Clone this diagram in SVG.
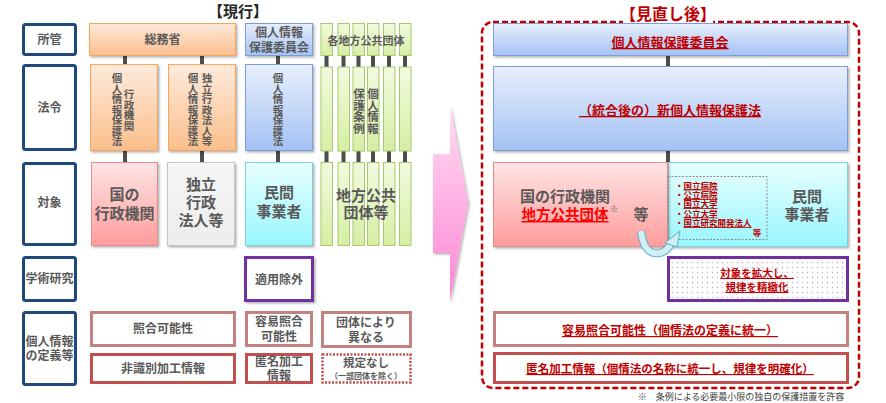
<svg xmlns="http://www.w3.org/2000/svg" width="886" height="403" viewBox="0 0 886 403">
<style>
text{font-family:"Noto Sans CJK JP","Liberation Sans",sans-serif;font-weight:bold;fill:#595959;text-anchor:middle}
.lbl{fill:#fff;stroke:#1F497D;stroke-width:3}
.lt{font-size:12px}
.vt{font-size:10.5px;writing-mode:vertical-rl}
.big{font-size:15px}
.red{fill:#C00000;text-decoration:underline}
.rose{fill:#fff;stroke:#C3827F;stroke-width:3}
.rbox{fill:#fff;stroke:#C0504D;stroke-width:3}
.conn{fill:#4D4D4D}
.org{fill:url(#gOrg);stroke:#F7A45E;stroke-width:1}
.blu{fill:url(#gBlu);stroke:#7B9ED6;stroke-width:1}
.grn{fill:url(#gGrn);stroke:#A6C96A;stroke-width:1}
.pnk{fill:url(#gPnk);stroke:#E58C8C;stroke-width:1}
.cyn{fill:url(#gCyn);stroke:#7FCFDD;stroke-width:1}
</style>
<defs>
<linearGradient id="gOrg" x1="0" y1="0" x2="0" y2="1"><stop offset="0" stop-color="#FEEADB"/><stop offset="1" stop-color="#FBBF8C"/></linearGradient>
<linearGradient id="gBlu" x1="0" y1="0" x2="0" y2="1"><stop offset="0" stop-color="#E8EFFC"/><stop offset="1" stop-color="#A3C2F4"/></linearGradient>
<linearGradient id="gGrn" x1="0" y1="0" x2="0" y2="1"><stop offset="0" stop-color="#F3FADF"/><stop offset="1" stop-color="#D6EEA4"/></linearGradient>
<linearGradient id="gPnk" x1="0" y1="0" x2="0" y2="1"><stop offset="0" stop-color="#FFE4E4"/><stop offset="1" stop-color="#FF9C9C"/></linearGradient>
<linearGradient id="gCyn" x1="0" y1="0" x2="0" y2="1"><stop offset="0" stop-color="#E8FFFF"/><stop offset="1" stop-color="#99F6FF"/></linearGradient>
<linearGradient id="gGry" x1="0" y1="0" x2="0" y2="1"><stop offset="0" stop-color="#F5F5F5"/><stop offset="1" stop-color="#EDEDED"/></linearGradient>
<linearGradient id="gArr" x1="0" y1="0" x2="0" y2="1"><stop offset="0" stop-color="#FFDDF3"/><stop offset="1" stop-color="#FF86D6"/></linearGradient>
<pattern id="dots" width="5" height="5" patternUnits="userSpaceOnUse"><rect width="5" height="5" fill="#fff"/><circle cx="2.5" cy="2.5" r="0.7" fill="#C9A3D9"/></pattern>
<filter id="sh" x="-10%" y="-10%" width="130%" height="130%"><feDropShadow dx="1.5" dy="1.5" stdDeviation="1" flood-color="#000" flood-opacity="0.3"/></filter>
</defs>

<!-- titles -->
<text x="238" y="17" style="font-size:15px;fill:#262626">【現行】</text>

<!-- row labels -->
<g id="row-shokan"><rect class="lbl" x="23.5" y="24.5" width="52" height="30" rx="2"/><text class="lt" x="49.5" y="44">所管</text></g>
<g id="row-horei"><rect class="lbl" x="23.5" y="65.5" width="52" height="84" rx="2"/><text class="lt" x="49.5" y="112">法令</text></g>
<g id="row-taisho"><rect class="lbl" x="23.5" y="163.5" width="52" height="81" rx="2"/><text class="lt" x="49.5" y="207">対象</text></g>
<g id="row-gakujutsu"><rect class="lbl" x="23.5" y="257.5" width="52" height="43" rx="2"/><text class="lt" x="49.5" y="283">学術研究</text></g>
<g id="row-teigi"><rect class="lbl" x="23.5" y="312.5" width="52" height="72" rx="2"/><text class="lt" x="49.5" y="346">個人情報</text><text class="lt" x="49.5" y="360">の定義等</text></g>

<!-- connectors -->
<g id="connectors">
<rect class="conn" x="123" y="56" width="4" height="8"/>
<rect class="conn" x="200" y="56" width="4" height="8"/>
<rect class="conn" x="276" y="56" width="4" height="8"/>
<rect class="conn" x="123" y="150" width="4" height="12"/>
<rect class="conn" x="200" y="150" width="4" height="12"/>
<rect class="conn" x="276" y="150" width="4" height="12"/>
<rect class="conn" x="324.5" y="56" width="4" height="11"/>
<rect class="conn" x="341.5" y="56" width="4" height="11"/>
<rect class="conn" x="356.5" y="56" width="4" height="11"/>
<rect class="conn" x="371" y="56" width="4" height="11"/>
<rect class="conn" x="387" y="56" width="4" height="11"/>
<rect class="conn" x="403" y="56" width="4" height="11"/>
<rect class="conn" x="324.5" y="151" width="4" height="11"/>
<rect class="conn" x="341.5" y="151" width="4" height="11"/>
<rect class="conn" x="356.5" y="151" width="4" height="11"/>
<rect class="conn" x="371" y="151" width="4" height="11"/>
<rect class="conn" x="387" y="151" width="4" height="11"/>
<rect class="conn" x="403" y="151" width="4" height="11"/>
<rect class="conn" x="666" y="56" width="4" height="10"/>
<rect class="conn" x="666" y="151" width="4" height="11"/>
</g>

<!-- 所管 row -->
<g id="somusho"><rect class="org" x="89.5" y="23.5" width="146" height="32" filter="url(#sh)"/><text class="lt" x="162.5" y="44">総務省</text></g>
<g id="ppc"><rect class="blu" x="245.5" y="23.5" width="67" height="32" filter="url(#sh)"/><text class="lt" x="279" y="37">個人情報</text><text class="lt" x="279" y="52">保護委員会</text></g>
<g id="chiho-bars">
<rect class="grn" x="321" y="23.5" width="11.5" height="32"/>
<rect class="grn" x="338" y="23.5" width="11.5" height="32"/>
<rect class="grn" x="353" y="23.5" width="11.5" height="32"/>
<rect class="grn" x="367.5" y="23.5" width="11.5" height="32"/>
<rect class="grn" x="383.5" y="23.5" width="11.5" height="32"/>
<rect class="grn" x="399.5" y="23.5" width="11.5" height="32"/>
<text x="366" y="45" style="font-size:11px">各地方公共団体</text>
</g>

<!-- 法令 row -->
<g id="law-gyosei"><rect class="org" x="90.5" y="64.5" width="67" height="86" filter="url(#sh)"/>
<text class="vt" x="129" y="110">行政機関</text><text class="vt" x="117" y="110">個人情報保護法</text></g>
<g id="law-dokuho"><rect class="org" x="168.5" y="64.5" width="67" height="86" filter="url(#sh)"/>
<text class="vt" x="207" y="110">独立行政法人等</text><text class="vt" x="193" y="110">個人情報保護法</text></g>
<g id="law-kojin"><rect class="blu" x="245.5" y="64.5" width="67" height="86" filter="url(#sh)"/>
<text class="vt" x="278" y="110">個人情報保護法</text></g>
<g id="law-jorei">
<rect class="grn" x="321" y="67" width="11.5" height="84"/>
<rect class="grn" x="338" y="67" width="11.5" height="84"/>
<rect class="grn" x="353" y="67" width="11.5" height="84"/>
<rect class="grn" x="367.5" y="67" width="11.5" height="84"/>
<rect class="grn" x="383.5" y="67" width="11.5" height="84"/>
<rect class="grn" x="399.5" y="67" width="11.5" height="84"/>
<text class="vt" x="373" y="111" style="font-size:11.5px">個人情報</text><text class="vt" x="359" y="111" style="font-size:11.5px">保護条例</text>
</g>

<!-- 対象 row -->
<g id="t-kuni"><rect class="pnk" x="91.5" y="162.5" width="66" height="83" filter="url(#sh)"/><text class="big" x="124.5" y="200">国の</text><text class="big" x="124.5" y="219">行政機関</text></g>
<g id="t-dokuho"><rect x="167.5" y="162.5" width="67" height="83" fill="url(#gGry)" stroke="#C4C4C4" filter="url(#sh)"/><text class="big" x="201" y="190">独立</text><text class="big" x="201" y="208">行政</text><text class="big" x="201" y="226">法人等</text></g>
<g id="t-minkan"><rect class="cyn" x="245.5" y="162.5" width="67" height="83" filter="url(#sh)"/><text class="big" x="279" y="198">民間</text><text class="big" x="279" y="217">事業者</text></g>
<g id="t-chiho">
<rect class="grn" x="321" y="162.5" width="11.5" height="83"/>
<rect class="grn" x="338" y="162.5" width="11.5" height="83"/>
<rect class="grn" x="353" y="162.5" width="11.5" height="83"/>
<rect class="grn" x="367.5" y="162.5" width="11.5" height="83"/>
<rect class="grn" x="383.5" y="162.5" width="11.5" height="83"/>
<rect class="grn" x="399.5" y="162.5" width="11.5" height="83"/>
<text class="big" x="366" y="201">地方公共</text><text class="big" x="366" y="218">団体等</text>
</g>

<!-- 学術研究 row -->
<g id="tekiyo"><rect x="245.5" y="257.5" width="67" height="43" fill="#fff" stroke="#7030A0" stroke-width="3" filter="url(#sh)"/><text class="lt" x="279" y="284">適用除外</text></g>

<!-- 定義 row -->
<g id="d-shogo"><rect class="rose" x="91.5" y="312.5" width="143" height="33"/><text class="lt" x="163" y="333">照合可能性</text></g>
<g id="d-hishiki"><rect class="rbox" x="91.5" y="354.5" width="143" height="28"/><text class="lt" x="163" y="373">非識別加工情報</text></g>
<g id="d-yoi"><rect class="rose" x="246.5" y="312.5" width="65" height="33"/><text class="lt" x="279" y="326">容易照合</text><text class="lt" x="279" y="341">可能性</text></g>
<g id="d-tokumei"><rect class="rbox" x="246.5" y="354.5" width="65" height="28"/><text class="lt" x="279" y="366">匿名加工</text><text class="lt" x="279" y="380">情報</text></g>
<g id="d-dantai"><rect class="rose" x="322.5" y="312.5" width="88" height="34"/><text class="lt" x="366" y="327">団体により</text><text class="lt" x="366" y="342">異なる</text></g>
<g id="d-kitei"><rect x="322.5" y="354.5" width="88" height="28" fill="#fff" stroke="#C0504D" stroke-width="2.5" stroke-dasharray="2 1.5"/><text x="366" y="367" style="font-size:11.5px">規定なし</text><text x="366" y="379" style="font-size:8px">（一部団体を除く）</text></g>

<!-- big arrow -->
<g id="arrow"><polygon points="433,154 450,154 450,105 468,203 450,302 450,253 433,253" fill="url(#gArr)" filter="url(#sh)"/></g>

<!-- right side -->
<g id="frame">
<rect x="482" y="22" width="377" height="366" rx="11" fill="none" stroke="#C00000" stroke-width="2.5" stroke-dasharray="6 3"/>
<rect x="623" y="15" width="90" height="11" fill="#fff"/>
<text x="668" y="20" style="font-size:16px;fill:#C00000">【見直し後】</text>
</g>
<g id="r-ppc"><rect class="blu" x="493.5" y="23.5" width="354" height="32" filter="url(#sh)"/><text class="red" x="670" y="47" style="font-size:13px">個人情報保護委員会</text></g>
<g id="r-law"><rect class="blu" x="493.5" y="66.5" width="354" height="84" filter="url(#sh)"/><text class="red" x="670" y="115" style="font-size:13px">（統合後の）新個人情報保護法</text></g>
<g id="r-taisho">
<rect class="cyn" x="667.5" y="162.5" width="180" height="84" filter="url(#sh)"/>
<rect class="pnk" x="493.5" y="162.5" width="174" height="84" filter="url(#sh)"/>
<line x1="668" y1="163" x2="668" y2="246" stroke="#8C8C8C" stroke-width="1" stroke-dasharray="2 1.5"/>
<text class="big" x="565" y="202">国の行政機関</text>
<text x="565" y="220" style="font-size:14.5px;fill:#FF0000;text-decoration:underline">地方公共団体</text>
<text x="614" y="212" style="font-size:8px">※</text>
<text class="big" x="641" y="220">等</text>
<rect x="668" y="176.5" width="99" height="63" fill="none" stroke="#8C8C8C" stroke-width="1" stroke-dasharray="2 1.5"/>
<g style="font-size:8.5px">
<text x="675" y="188.5" style="text-anchor:start;fill:#C00000">・<tspan style="text-decoration:underline">国立病院</tspan></text>
<text x="675" y="198" style="text-anchor:start;fill:#C00000">・<tspan style="text-decoration:underline">公立病院</tspan></text>
<text x="675" y="207" style="text-anchor:start;fill:#C00000">・<tspan style="text-decoration:underline">国立大学</tspan></text>
<text x="675" y="216.5" style="text-anchor:start;fill:#C00000">・<tspan style="text-decoration:underline">公立大学</tspan></text>
<text x="675" y="226" style="text-anchor:start;fill:#C00000">・<tspan style="text-decoration:underline">国立研究開発法人</tspan></text>
<text x="757" y="235.5" style="fill:#C00000">等</text>
</g>
<text class="big" x="807" y="202">民間</text><text class="big" x="807" y="220">事業者</text>
<path d="M641,231 Q644,256 660,253 Q668,251 671,243" fill="none" stroke="#5FB3CC" stroke-width="8" stroke-linecap="butt"/>
<path d="M641,231 Q644,256 660,253 Q668,251 671,243" fill="none" stroke="#D3EFF6" stroke-width="6" stroke-linecap="butt"/>
<polygon points="665,243 680,231 677,247" fill="#D3EFF6" stroke="#5FB3CC" stroke-width="1"/>
</g>
<g id="r-kakudai"><rect x="668.5" y="257.5" width="179" height="43" fill="url(#dots)" stroke="#7030A0" stroke-width="3"/><text class="red" x="757" y="277" style="font-size:10.5px">対象を拡大し、</text><text class="red" x="757" y="291" style="font-size:10.5px">規律を精緻化</text></g>
<g id="r-yoi"><rect class="rose" x="494.5" y="312.5" width="353" height="33"/><text class="red" x="670" y="335" style="font-size:12px">容易照合可能性（個情法の定義に統一）</text></g>
<g id="r-tokumei"><rect class="rbox" x="494.5" y="353.5" width="353" height="29"/><text class="red" x="670" y="373" style="font-size:11.5px">匿名加工情報（個情法の名称に統一し、規律を明確化）</text></g>
<text x="741" y="400" style="font-size:9px;font-weight:normal;fill:#404040">※　条例による必要最小限の独自の保護措置を許容</text>
</svg>
